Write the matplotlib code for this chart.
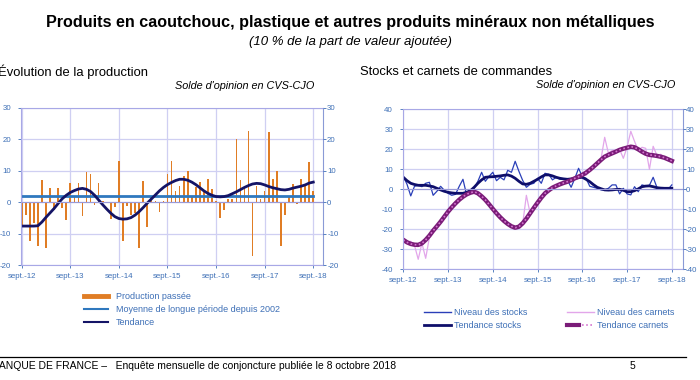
import matplotlib
matplotlib.use("Agg")
import matplotlib.pyplot as plt
from matplotlib.lines import Line2D
from matplotlib.legend_handler import HandlerTuple

plt.rcParams["font.family"] = ["Liberation Sans", "DejaVu Sans"]
plt.rcParams["axes.unicode_minus"] = False

# mois de sept.-12 a sept.-18
mois = list(range(73))
ticks_x = [0, 12, 24, 36, 48, 60, 72]
labels_x = ["sept.-12", "sept.-13", "sept.-14", "sept.-15", "sept.-16", "sept.-17", "sept.-18"]

# evolution de la production
production = [-8, -4, -12.5, -6.7, -14, 7, -14.7, 4.5, -2.5, 4.5, -2, -5.6, 6, 2, 6, -4.5,
              9.5, 9, -0.8, 6, 0.3, -0.3, -5.4, -1.6, 13, -12.5, -1.2, -4, -3.5, -14.7, 6.8, -8,
              2, 0.3, -3, 0.5, 9, 13, 3.7, 5.2, 8.4, 9.8, 1.8, 4.8, 6.3, 3.7, 7.5, 4.1,
              0.3, -5.1, -2.4, 1, 1, 20, 7, 4.8, 22.8, -17, 5.2, 1, 3.7, 22.3, 7.3, 10,
              -13.8, -4, 1.8, 5.7, -0.6, 7.5, 5.2, 12.7, 3.6]
moyenne = [2.0] * 73
tendance = [-7.6, -7.6, -7.6, -7.6, -7.5, -6.3, -4.8, -3.4, -2.0, -0.4, 1.1, 2.2, 3.1, 3.7, 4.2, 4.4,
            4.1, 3.4, 2.2, 0.7, -0.8, -2.2, -3.5, -4.6, -5.2, -5.4, -5.3, -4.9, -4.1, -3.0, -1.7, -0.3,
            1.0, 2.3, 3.6, 4.7, 5.6, 6.3, 6.9, 7.3, 7.3, 7.0, 6.4, 5.6, 4.6, 3.6, 2.8, 2.2,
            1.8, 1.7, 1.8, 2.1, 2.7, 3.3, 4.0, 4.7, 5.3, 5.8, 6.0, 5.9, 5.5, 5.0, 4.6, 4.3,
            4.0, 3.9, 4.1, 4.5, 4.8, 5.1, 5.5, 6.1, 6.4]

# stocks et carnets
stocks = [6.5, 2.5, -3.3, 1.5, 2, 1.3, 3, 3.5, -3, -1, 1.5, -0.5, -2, -3, -2.5, 1.5,
          5, -3, -1.5, 0.5, 4, 8.5, 4, 6.5, 8.5, 4.3, 6, 4.7, 9.5, 8.5, 14, 9,
          4.5, 1, 2.5, 3, 5.5, 3, 8, 7.5, 4.7, 6, 5, 5, 4.7, 1, 5.5, 10.5,
          6.3, 5.5, 1.5, 1, 0.5, -0.3, -0.3, 0.5, 2.2, 2.2, -2.3, 0.5, -2.3, -2.8, 1.3, -1.2,
          2.2, 1.7, 2, 6, 1, 0.5, 0.5, 0, 2.2]
tend_stocks = [6, 4.3, 3, 2.4, 2, 2, 2, 1.7, 1.3, 0.5, -0.3, -1, -1.5, -1.8, -2, -2,
               -2, -1.5, -0.7, 1, 3, 4.7, 6, 6.2, 6.3, 6.5, 6.7, 7, 7.2, 6.6, 5.5, 4,
               2.7, 2.5, 3, 4, 5, 6.2, 7.2, 7.2, 6.7, 6, 5.5, 5.2, 5, 5.2, 5.5, 5.8,
               6, 5, 3.8, 2.3, 1, 0.3, -0.3, -0.4, -0.3, -0.1, 0, -0.5, -1.2, -1.2, -0.7, 0.2,
               1.3, 1.6, 1.7, 1.3, 0.8, 0.6, 0.5, 0.5, 0.5]
carnets = [-26, -26.5, -26, -28, -35, -27, -34.5, -24, -21, -18.5, -16, -13.5, -11, -9, -7, -5,
           -3.5, -2.5, -2, -1, -2, -3.5, -5.5, -7.5, -10, -12, -14, -16, -17.5, -19, -19.5, -19,
           -17.5, -3, -12, -9, -6.5, -4.5, -2, -0.5, 1, 1.5, 2.5, 3, 4, 4.5, 5.5, 6.5,
           7.5, 7, 10, 11.5, 13, 15, 26, 18, 19.5, 19.5, 20, 15.5, 21, 29, 24, 19.5,
           21, 20.5, 10, 21.5, 17, 17.5, 16, 15, 13.5]
tend_carnets = [-25.3, -26.5, -27.3, -27.7, -27.8, -27, -25.3, -23.2, -20.7, -18.5, -16.2, -13.7, -11.2, -9, -7, -5.2,
                -3.7, -2.5, -1.7, -1.2, -2, -3.5, -5.3, -7.5, -9.8, -12, -14, -15.8, -17.3, -18.5, -19.2, -18.7,
                -17, -14.7, -12, -9.3, -6.7, -4.2, -2, -0.5, 0.8, 1.7, 2.5, 3.2, 3.8, 4.6, 5.5, 6.3,
                7.2, 8.3, 9.7, 11.3, 13, 14.7, 16.3, 17.2, 18, 18.8, 19.7, 20.3, 20.8, 21.3, 21, 20,
                18.8, 17.8, 17.2, 17, 16.7, 16.3, 15.8, 15, 14.2]

bleu_txt = "#3d6fb6"
grille = "#cfcff2"
cadre = "#a8a8e6"

fig = plt.figure(figsize=(7, 3.8), dpi=100)
W, H = 700, 380


def boite(x0, y0, x1, y1):
    return [x0 / W, 1 - y1 / H, (x1 - x0) / W, (y1 - y0) / H]


def habiller(ax, yticks, pad_g, pad_d):
    ax.set_xticks(ticks_x)
    ax.set_xticklabels(labels_x)
    ax.set_yticks(yticks)
    ax.set_ylim(yticks[0], yticks[-1])
    ax.grid(True, color=grille, lw=0.9)
    ax.set_axisbelow(True)
    for s in ax.spines.values():
        s.set_color(cadre)
    ax.spines["right"].set_color("#8a9ad6")
    ax.tick_params(labelsize=5.7, colors=bleu_txt, length=2, width=0.6)
    ax.tick_params(axis="y", pad=pad_g)
    # etiquettes a droite
    ax_d = ax.twinx()
    ax_d.set_ylim(yticks[0], yticks[-1])
    ax_d.set_yticks(yticks)
    ax_d.tick_params(labelsize=5.7, colors=bleu_txt, length=2, width=0.6, pad=pad_d)
    for s in ax_d.spines.values():
        s.set_visible(False)


fig.text(0.5, 1 - 22 / H, "Produits en caoutchouc, plastique et autres produits minéraux non métalliques",
         ha="center", va="center", fontsize=11.6, fontweight="bold")
fig.text(0.5, 1 - 42 / H, "(10 % de la part de valeur ajoutée)", ha="center", va="center",
         fontsize=9.5, style="italic")

# graphique de gauche
ax1 = fig.add_axes(boite(20.7, 108, 323, 265))
ax1.bar(mois, production, width=0.4, color="#e07d25")
ax1.plot(mois, moyenne, color="#2f78be", lw=2)
ax1.plot(mois, tendance, color="#141466", lw=2)
ax1.axhline(0, color="#9a9ad8", lw=0.8)
habiller(ax1, [-20, -10, 0, 10, 20, 30], 5, 1)
ax1.set_xlim(-0.25, 74.4)

fig.text(-2 / W, 1 - 72 / H, "Évolution de la production", ha="left", va="center", fontsize=9.4)
fig.text(314 / W, 1 - 86 / H, "Solde d'opinion en CVS-CJO", ha="right", va="center",
         fontsize=7.8, style="italic")

h1 = [Line2D([], [], color="#e07d25", lw=3.5),
      Line2D([], [], color="#2f78be", lw=1.5),
      Line2D([], [], color="#141466", lw=1.5)]
ax1.legend(h1, ["Production passée", "Moyenne de longue période depuis 2002", "Tendance"],
           loc="upper left", bbox_to_anchor=(76 / W, 1 - 284 / H), bbox_transform=fig.transFigure,
           frameon=False, fontsize=6.5, labelcolor=bleu_txt, handlelength=2.6,
           handletextpad=0.9, labelspacing=0.45)

# graphique de droite
ax2 = fig.add_axes(boite(403.3, 109.3, 683, 269.3))
ax2.plot(mois, stocks, color="#2a3fb8", lw=0.9)
ax2.plot(mois, tend_stocks, color="#0e0e6a", lw=2)
ax2.plot(mois, carnets, color="#e2a6ea", lw=0.9)
ax2.plot(mois, tend_carnets, color="#7a1c78", lw=3.2)
ax2.plot(mois, tend_carnets, color="#d576d0", lw=1.2, ls=(0, (1, 1.5)))
ax2.axhline(0, color="#9a9ad8", lw=0.8)
habiller(ax2, [-40, -30, -20, -10, 0, 10, 20, 30, 40], 5.5, 0.2)
ax2.set_xlim(0, 75)

fig.text(360 / W, 1 - 72 / H, "Stocks et carnets de commandes", ha="left", va="center", fontsize=9.4)
fig.text(675 / W, 1 - 85 / H, "Solde d'opinion en CVS-CJO", ha="right", va="center",
         fontsize=7.8, style="italic")

h2 = [Line2D([], [], color="#2a3fb8", lw=1),
      Line2D([], [], color="#0e0e6a", lw=2),
      Line2D([], [], color="#e2a6ea", lw=1),
      (Line2D([], [], color="#7a1c78", lw=3), Line2D([], [], color="#d576d0", lw=1.2, ls=(0, (1, 1.5))))]
ax2.legend(h2, ["Niveau des stocks", "Tendance stocks", "Niveau des carnets", "Tendance carnets"],
           ncol=2, loc="upper left", bbox_to_anchor=(416 / W, 1 - 300 / H), bbox_transform=fig.transFigure,
           frameon=False, fontsize=6.5, labelcolor=bleu_txt, handlelength=3.0,
           handletextpad=0.3, labelspacing=0.45, columnspacing=4.4,
           handler_map={tuple: HandlerTuple(ndivide=None)})

# pied de page
fig.add_artist(Line2D([0, 686 / W], [1 - 357 / H, 1 - 357 / H], color="black", lw=0.9))
fig.text(-8 / W, 1 - 366 / H, "BANQUE DE FRANCE –   Enquête mensuelle de conjoncture publiée le 8 octobre 2018",
         ha="left", va="center", fontsize=7.5)
fig.text(632 / W, 1 - 366 / H, "5", ha="center", va="center", fontsize=7.5)

fig.savefig("out.png", dpi=100)
